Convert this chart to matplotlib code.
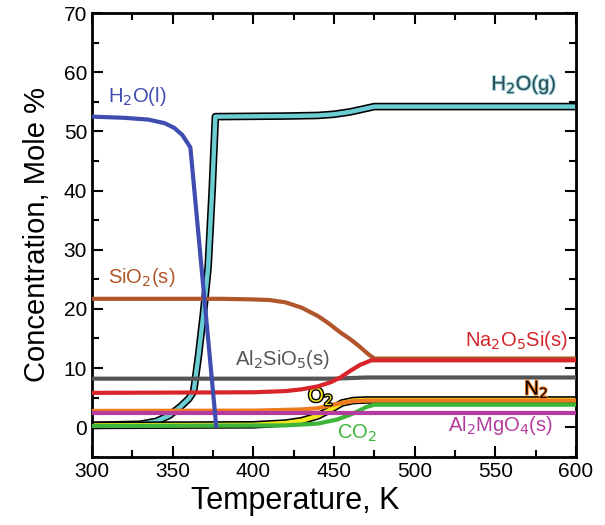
import matplotlib
matplotlib.use("Agg")
import matplotlib.pyplot as plt
import matplotlib.patheffects as pe
from matplotlib.ticker import MultipleLocator

plt.rcParams["font.family"] = ["Liberation Sans", "DejaVu Sans"]

# data (temperature in K, concentration in mole %)
t_h2ol = [300, 320, 335, 345, 351, 356, 361, 377]
h2ol = [52.5, 52.3, 52.0, 51.4, 50.6, 49.4, 47.3, 0.2]

t_h2og = [300, 330, 340, 348, 355, 360, 363, 366, 369, 372, 374.5, 376.5,
          420, 440, 450, 460, 470, 475, 600]
h2og = [0.3, 0.5, 1.0, 2.0, 3.5, 4.8, 6.0, 12.0, 19.0, 27.0, 40.0, 52.5,
        52.6, 52.7, 52.9, 53.3, 53.9, 54.2, 54.2]

t_sio2 = [300, 380, 400, 410, 420, 430, 440, 447, 454, 460, 466, 471, 475, 600]
sio2 = [21.7, 21.7, 21.6, 21.5, 21.1, 20.2, 18.8, 17.5, 16.0, 14.9, 13.6,
        12.4, 11.6, 11.6]

t_na2o5si = [300, 400, 420, 430, 440, 448, 454, 460, 466, 473, 600]
na2o5si = [5.8, 5.9, 6.1, 6.4, 6.9, 7.6, 8.4, 9.5, 10.5, 11.3, 11.3]

t_al2sio5 = [300, 450, 470, 600]
al2sio5 = [8.2, 8.2, 8.4, 8.4]

t_n2 = [300, 400, 430, 440, 448, 455, 462, 470, 600]
n2 = [2.75, 2.8, 3.0, 3.2, 3.7, 4.1, 4.4, 4.5, 4.5]

t_o2 = [300, 400, 420, 430, 440, 448, 455, 462, 470, 600]
o2 = [0.3, 0.4, 0.7, 1.1, 1.9, 3.0, 4.1, 4.5, 4.6, 4.6]

t_co2 = [300, 420, 440, 452, 460, 465, 470, 475, 600]
co2 = [0.2, 0.3, 0.6, 1.3, 2.1, 2.7, 3.4, 3.8, 3.8]

t_al2mgo4 = [300, 600]
al2mgo4 = [2.4, 2.4]

fig = plt.figure(figsize=(6.05, 5.25), dpi=100)
ax = fig.add_axes([0.152, 0.13, 0.8, 0.845])

outline = [pe.Stroke(linewidth=5.5, foreground="black"), pe.Normal()]

ax.plot(t_h2og, h2og, color="#6ccdd4", lw=3.2, path_effects=outline, zorder=2)
ax.plot(t_o2, o2, color="#f2e81c", lw=3.2, path_effects=outline, zorder=2)
ax.plot(t_sio2, sio2, color="#b0562a", lw=3, zorder=3)
ax.plot(t_na2o5si, na2o5si, color="#d7252b", lw=3, zorder=4)
ax.plot(t_al2sio5, al2sio5, color="#555555", lw=3, zorder=3)
ax.plot(t_n2, n2, color="#f07a20", lw=3, zorder=3)
ax.plot(t_co2, co2, color="#3db53a", lw=3, zorder=3)
ax.plot(t_al2mgo4, al2mgo4, color="#b33c9e", lw=3, zorder=4)
ax.plot(t_h2ol, h2ol, color="#3f4db0", lw=3, zorder=5)

fs = 14.5
ax.text(310, 55, "H$_2$O(l)", color="#3f4db0", fontsize=fs)
ax.text(588, 57, "H$_2$O(g)", color="#2b4a52", fontsize=fs, ha="right",
        path_effects=[pe.Stroke(linewidth=1.5, foreground="#9fd6dc"), pe.Normal()])
ax.text(310, 24.3, "SiO$_2$(s)", color="#b0562a", fontsize=fs)
ax.text(418, 10.5, "Al$_2$SiO$_5$(s)", color="#555555", fontsize=fs, ha="center")
ax.text(595, 13.8, "Na$_2$O$_5$Si(s)", color="#d7252b", fontsize=fs, ha="right")
ax.text(434, 4.3, "O$_2$", color="#f2e81c", fontsize=fs,
        path_effects=[pe.Stroke(linewidth=2, foreground="black"), pe.Normal()])
ax.text(568, 5.5, "N$_2$", color="black", fontsize=fs,
        path_effects=[pe.Stroke(linewidth=1.5, foreground="#f07a20"), pe.Normal()])
ax.text(452, -1.9, "CO$_2$", color="#3db53a", fontsize=fs)
ax.text(586, -0.6, "Al$_2$MgO$_4$(s)", color="#b33c9e", fontsize=fs, ha="right")

ax.set_xlim(300, 600)
ax.set_ylim(-5, 70)
ax.xaxis.set_major_locator(MultipleLocator(50))
ax.xaxis.set_minor_locator(MultipleLocator(25))
ax.yaxis.set_major_locator(MultipleLocator(10))
ax.yaxis.set_minor_locator(MultipleLocator(5))
ax.tick_params(which="both", direction="in", top=True, right=True,
               width=1.5, labelsize=15)
ax.tick_params(which="major", length=8)
ax.tick_params(which="minor", length=5)
for s in ax.spines.values():
    s.set_linewidth(2)

ax.set_xlabel("Temperature, K", fontsize=22, labelpad=0)
ax.xaxis.set_label_coords(0.42, -0.065)
ax.set_ylabel("Concentration, Mole %", fontsize=21, labelpad=9)

fig.savefig("out.png", dpi=100)
